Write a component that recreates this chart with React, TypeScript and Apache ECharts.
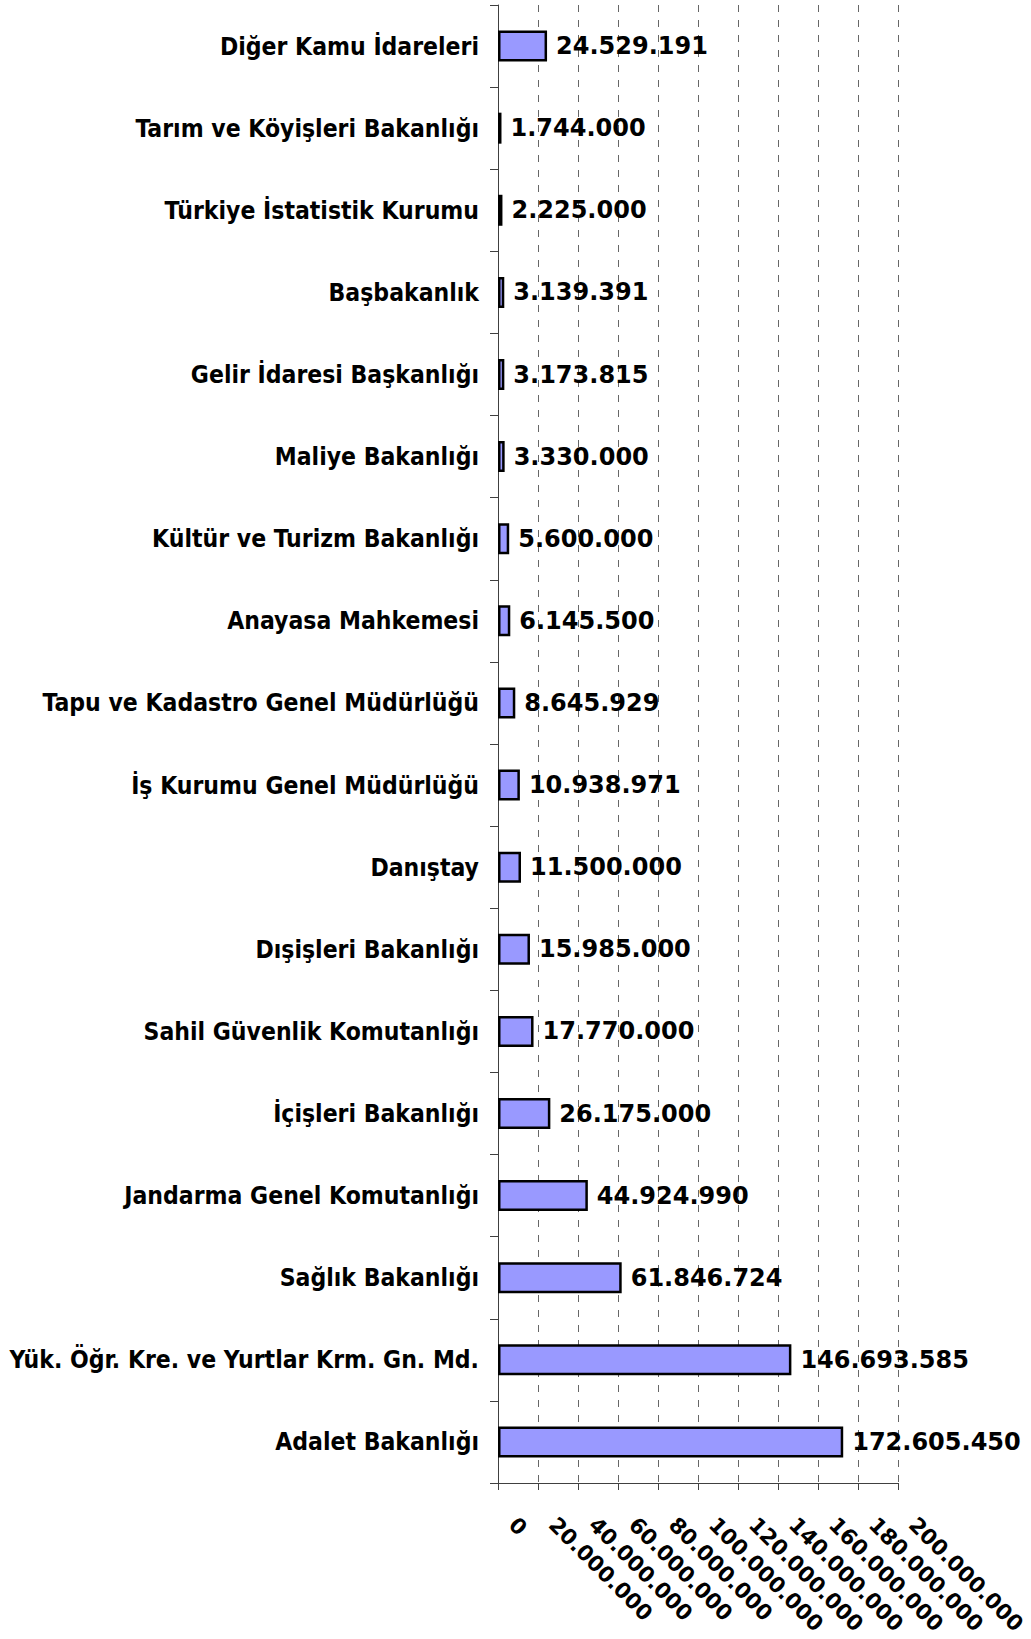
import React, { useEffect, useRef } from "react";
import * as echarts from "echarts";

const categories = [
  "Diğer Kamu İdareleri",
  "Tarım ve Köyişleri Bakanlığı",
  "Türkiye İstatistik Kurumu",
  "Başbakanlık",
  "Gelir İdaresi Başkanlığı",
  "Maliye Bakanlığı",
  "Kültür ve Turizm Bakanlığı",
  "Anayasa Mahkemesi",
  "Tapu ve Kadastro Genel Müdürlüğü",
  "İş Kurumu Genel Müdürlüğü",
  "Danıştay",
  "Dışişleri Bakanlığı",
  "Sahil Güvenlik Komutanlığı",
  "İçişleri Bakanlığı",
  "Jandarma Genel Komutanlığı",
  "Sağlık Bakanlığı",
  "Yük. Öğr. Kre. ve Yurtlar Krm. Gn. Md.",
  "Adalet Bakanlığı",
];

const values = [
  24529191, 1744000, 2225000, 3139391, 3173815, 3330000, 5600000, 6145500,
  8645929, 10938971, 11500000, 15985000, 17770000, 26175000, 44924990,
  61846724, 146693585, 172605450,
];

const axisMin = 0;
const axisMax = 200000000;
const axisStep = 20000000;

const CAT_FONT = "'DejaVu Sans Condensed', 'DejaVu Sans', sans-serif";
const NUM_FONT = "'DejaVu Sans', Verdana, sans-serif";

function fmt(v: number): string {
  const s = Math.round(v).toString();
  return s.replace(/\B(?=(\d{3})+(?!\d))/g, ".");
}

export default function App() {
  const ref = useRef<HTMLDivElement>(null);
  useEffect(() => {
    if (!ref.current) return;
    const chart = echarts.init(ref.current, null, { renderer: "svg" });
    chart.setOption({
      animation: false,
      backgroundColor: "#ffffff",
      grid: { left: 498, top: 5, right: 133, bottom: 156, containLabel: false },
      xAxis: {
        type: "value",
        min: axisMin,
        max: axisMax,
        interval: axisStep,
        position: "bottom",
        axisLine: { show: true, lineStyle: { color: "#404040", width: 1 } },
        axisTick: { show: true, length: 7, lineStyle: { color: "#404040" } },
        splitLine: {
          show: true,
          lineStyle: { color: "#666666", type: [7, 8], width: 1 },
        },
        axisLabel: {
          rotate: -45,
          margin: 23,
          padding: [0, 0, 0, 21],
          color: "#000",
          fontFamily: NUM_FONT,
          fontWeight: "bold",
          fontSize: 21.5,
          formatter: (v: number) => fmt(v),
        },
      },
      yAxis: {
        type: "category",
        data: categories,
        inverse: true,
        axisLine: { show: true, lineStyle: { color: "#404040", width: 1 } },
        axisTick: { show: true, length: 8, lineStyle: { color: "#404040" } },
        splitLine: { show: false },
        axisLabel: {
          margin: 19,
          color: "#000",
          fontFamily: CAT_FONT,
          fontWeight: "bold",
          fontSize: 24.5,
        },
      },
      series: [
        {
          type: "bar",
          data: values,
          barWidth: 31,
          itemStyle: { color: "#9999FF", borderColor: "#000", borderWidth: 2.5 },
          label: {
            show: true,
            position: "right",
            distance: 9,
            color: "#000",
            fontFamily: NUM_FONT,
            fontWeight: "bold",
            fontSize: 24,
            formatter: (p: any) => fmt(p.value),
          },
        },
      ],
    });
    return () => chart.dispose();
  }, []);
  return (
    <div
      ref={ref}
      style={{ position: "absolute", left: 0, top: 0, width: 1031, height: 1639 }}
    />
  );
}
